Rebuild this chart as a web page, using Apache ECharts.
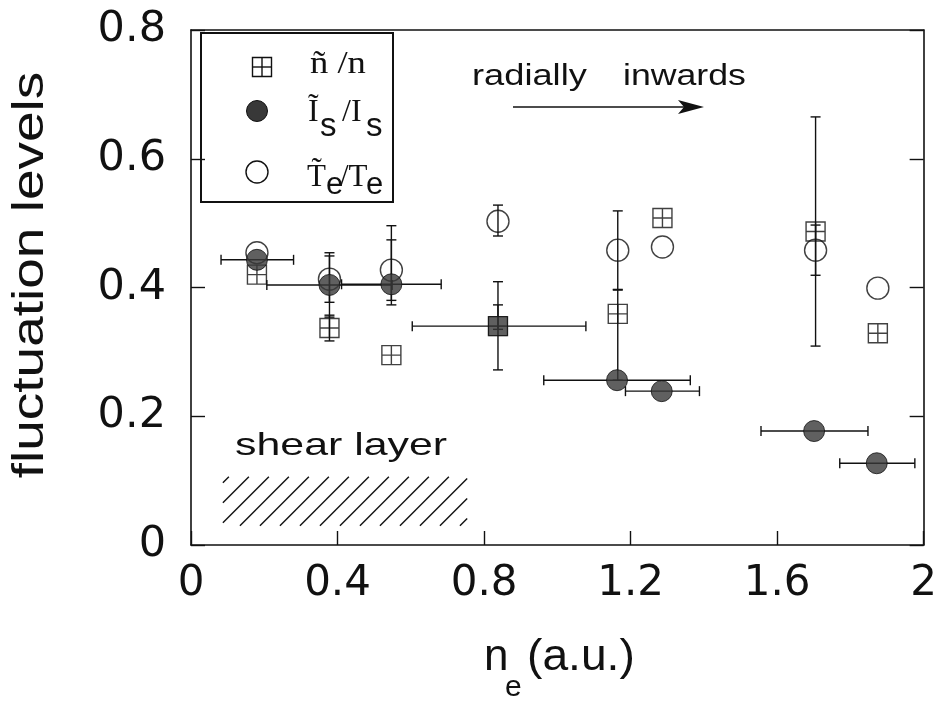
<!DOCTYPE html>
<html>
<head>
<meta charset="utf-8">
<script src="https://cdn.jsdelivr.net/npm/echarts@6/dist/echarts.min.js"></script>
<style>html,body{margin:0;padding:0;background:#fff;}#c{width:940px;height:704px;}</style>
</head>
<body>
<div id="c"></div>
<script>
// ---- data ----
const xTickLabels = ['0', '0.4', '0.8', '1.2', '1.6', '2'];
const yTickLabels = ['0', '0.2', '0.4', '0.6', '0.8'];

// ñ/n (squares)
const nX   = [0.180, 0.378, 0.547, 0.838, 1.165, 1.287, 1.705, 1.875];
const nY   = [0.420, 0.337, 0.295, 0.340, 0.359, 0.508, 0.487, 0.329];
const nYLo = [null, 0.317, null, 0.272, 0.256, null, 0.309, null];
const nYHi = [null, 0.357, null, 0.409, 0.396, null, 0.665, null];
const nXLo = [null, null, null, 0.604, null, null, null, null];
const nXHi = [null, null, null, 1.078, null, null, null, null];

// Ĩs/Is (filled circles)
const isX   = [0.180, 0.378, 0.547, 0.838, 1.163, 1.285, 1.701, 1.872];
const isY   = [0.443, 0.404, 0.405, 0.340, 0.256, 0.239, 0.177, 0.127];
const isYLo = [null, 0.354, 0.373, 0.335, null, null, null, null];
const isYHi = [null, 0.454, 0.496, 0.373, null, null, null, null];
const isXLo = [0.082, 0.207, 0.411, null, 0.963, 1.186, 1.556, 1.771];
const isXHi = [0.280, 0.549, 0.683, null, 1.363, 1.388, 1.848, 1.976];

// T̃e/Te (open circles)
const teX   = [0.180, 0.378, 0.547, 0.838, 1.165, 1.287, 1.705, 1.875];
const teY   = [0.454, 0.413, 0.427, 0.503, 0.458, 0.463, 0.458, 0.399];
const teYLo = [null, 0.377, 0.380, 0.480, 0.397, null, 0.419, null];
const teYHi = [null, 0.449, 0.474, 0.528, 0.519, null, 0.497, null];

// shear layer hatched region (n_e range, level range)
const shearX = [0.087, 0.754];
const shearY = [0.030, 0.106];

// ---- build ----
const INK = '#111';
const DARK = '#383838';
function pairs(xs, ys) { return xs.map((x, i) => [x, ys[i]]); }
function vErr(xs, lo, hi) { const o = []; xs.forEach((x, i) => { if (lo[i] != null) o.push([x, lo[i], hi[i]]); }); return o; }
function hErr(ys, lo, hi) { const o = []; ys.forEach((y, i) => { if (lo[i] != null) o.push([lo[i], hi[i], y]); }); return o; }

const vData = [].concat(vErr(nX, nYLo, nYHi), vErr(isX, isYLo, isYHi), vErr(teX, teYLo, teYHi));
const hData = [].concat(hErr(nY, nXLo, nXHi), hErr(isY, isXLo, isXHi));
// points where Is coincides with ñ/n -> drawn as a filled square
const overlap = [];
nX.forEach((x, i) => { isX.forEach((x2, j) => { if (Math.abs(x - x2) < 0.01 && Math.abs(nY[i] - isY[j]) < 0.005) overlap.push([x, nY[i]]); }); });
const isData = pairs(isX, isY).filter(p => !overlap.some(q => Math.abs(q[0] - p[0]) < 0.01 && Math.abs(q[1] - p[1]) < 0.005));

const CAP = 5;
const lineStyle = { stroke: INK, lineWidth: 1.4 };
function renderV(params, api) {
  const a = api.coord([api.value(0), api.value(1)]);
  const b = api.coord([api.value(0), api.value(2)]);
  return { type: 'group', children: [
    { type: 'line', shape: { x1: a[0], y1: a[1], x2: b[0], y2: b[1] }, style: lineStyle },
    { type: 'line', shape: { x1: a[0] - CAP, y1: a[1], x2: a[0] + CAP, y2: a[1] }, style: lineStyle },
    { type: 'line', shape: { x1: b[0] - CAP, y1: b[1], x2: b[0] + CAP, y2: b[1] }, style: lineStyle }
  ]};
}
function renderH(params, api) {
  const a = api.coord([api.value(0), api.value(2)]);
  const b = api.coord([api.value(1), api.value(2)]);
  return { type: 'group', children: [
    { type: 'line', shape: { x1: a[0], y1: a[1], x2: b[0], y2: b[1] }, style: lineStyle },
    { type: 'line', shape: { x1: a[0], y1: a[1] - CAP, x2: a[0], y2: a[1] + CAP }, style: lineStyle },
    { type: 'line', shape: { x1: b[0], y1: b[1] - CAP, x2: b[0], y2: b[1] + CAP }, style: lineStyle }
  ]};
}
function renderHatch(params, api) {
  const tl = api.coord([api.value(0), api.value(3)]);
  const br = api.coord([api.value(1), api.value(2)]);
  const left = tl[0], top = tl[1], right = br[0], bottom = br[1];
  const h = bottom - top, step = 20;
  const children = [];
  for (let c = left - h + 6; c < right; c += step) {
    const xs = Math.max(c, left), xe = Math.min(c + h, right);
    if (xe - xs < 1) continue;
    children.push({ type: 'line', shape: { x1: xs, y1: bottom - (xs - c), x2: xe, y2: bottom - (xe - c) }, style: { stroke: INK, lineWidth: 1.4 } });
  }
  return { type: 'group', children };
}

const SQ = 'path://M0,0L20,0L20,20L0,20Z M10,0L10,20 M0,10L20,10';

function txt(str, x, baseline, fs, fam, opt) {
  opt = opt || {};
  return { type: 'text', x: x, y: baseline - 0.34 * fs, scaleX: opt.sx || 1, z: 10,
    style: { text: str, fontSize: fs, fontFamily: fam, fill: INK, align: opt.align || 'left', verticalAlign: 'middle' } };
}
const SANS = 'Liberation Sans', SERIF = 'Liberation Serif';

const graphic = [
  // legend box
  { type: 'rect', shape: { x: 201, y: 33, width: 192, height: 169 }, style: { fill: 'none', stroke: INK, lineWidth: 2 }, z: 10 },
  { type: 'rect', shape: { x: 252.5, y: 57.5, width: 19, height: 19 }, style: { fill: 'none', stroke: INK, lineWidth: 1.4 }, z: 10 },
  { type: 'line', shape: { x1: 262, y1: 57.5, x2: 262, y2: 76.5 }, style: { stroke: INK, lineWidth: 1.4 }, z: 10 },
  { type: 'line', shape: { x1: 252.5, y1: 67, x2: 271.5, y2: 67 }, style: { stroke: INK, lineWidth: 1.4 }, z: 10 },
  { type: 'circle', shape: { cx: 257, cy: 111, r: 10.5 }, style: { fill: DARK, stroke: INK, lineWidth: 1 }, z: 10 },
  { type: 'circle', shape: { cx: 257, cy: 172, r: 11 }, style: { fill: 'none', stroke: INK, lineWidth: 1.4 }, z: 10 },
  txt('ñ /n', 310, 75, 31, SERIF, { sx: 1.18 }),
  txt('Ĩ', 308, 123, 32, SERIF),
  txt('s', 320, 138, 33, SANS),
  txt(' /I', 334, 123, 32, SERIF),
  txt('s', 366, 138, 33, SANS),
  txt('T\u0303', 307, 188, 31, SERIF),
  txt('e', 326, 196, 31, SANS),
  txt('/T', 340, 188, 31, SERIF),
  txt('e', 366, 196, 31, SANS),
  // annotations
  txt('radially', 472, 87, 29, SANS, { sx: 1.25 }),
  txt('inwards', 623, 87, 29, SANS, { sx: 1.23 }),
  { type: 'line', shape: { x1: 513, y1: 107, x2: 685, y2: 107 }, style: { stroke: INK, lineWidth: 1.5 }, z: 10 },
  { type: 'polygon', shape: { points: [[678, 100], [704, 107], [678, 114], [684, 107]] }, style: { fill: INK }, z: 10 },
  txt('shear layer', 235, 457, 32, SANS, { sx: 1.34 }),
  // axis titles
  { type: 'text', x: 31, y: 275, rotation: Math.PI / 2, scaleX: 1.25, z: 10,
    style: { text: 'fluctuation levels', fontSize: 44, fontFamily: SANS, fill: INK, align: 'center', verticalAlign: 'middle' } },
  txt('n', 484, 673, 44, SANS),
  txt('e', 505, 698, 30, SANS),
  txt('(a.u.)', 527, 673, 44, SANS, { sx: 1.05 })
];

const axisCommon = {
  type: 'value',
  axisLine: { show: true, onZero: false, lineStyle: { color: INK, width: 1.6 } },
  axisTick: { show: true, inside: true, length: 14, lineStyle: { color: INK, width: 1.4 } },
  splitLine: { show: false }
};

const option = {
  animation: false,
  backgroundColor: '#fff',
  grid: { left: 191, right: 15, top: 30, bottom: 159 },
  xAxis: [
    Object.assign({}, axisCommon, { min: 0, max: 2, interval: 0.4, position: 'bottom',
      axisLabel: { margin: 18, fontSize: 42, fontFamily: 'DejaVu Sans', color: INK, formatter: (v, i) => xTickLabels[i] } }),
    Object.assign({}, axisCommon, { min: 0, max: 2, interval: 0.4, position: 'top', axisTick: { show: false }, axisLabel: { show: false } })
  ],
  yAxis: [
    Object.assign({}, axisCommon, { min: 0, max: 0.8, interval: 0.2, position: 'left',
      axisLabel: { margin: 25, fontSize: 43, fontFamily: 'DejaVu Sans', color: INK, formatter: (v, i) => yTickLabels[i] } }),
    Object.assign({}, axisCommon, { min: 0, max: 0.8, interval: 0.2, position: 'right', axisLabel: { show: false } })
  ],
  series: [
    { type: 'custom', renderItem: renderHatch, data: [[shearX[0], shearX[1], shearY[0], shearY[1]]], encode: { x: [0, 1], y: [2, 3] }, z: 1, silent: true },
    { type: 'custom', renderItem: renderV, data: vData, encode: { x: 0, y: [1, 2] }, z: 2, silent: true },
    { type: 'custom', renderItem: renderH, data: hData, encode: { x: [0, 1], y: 2 }, z: 2, silent: true },
    { name: 'ñ/n', type: 'scatter', symbol: SQ, symbolSize: 19, data: pairs(nX, nY), z: 3, silent: true,
      itemStyle: { color: 'rgba(0,0,0,0)', borderColor: INK, borderWidth: 1.4 } },
    { name: 'Te', type: 'scatter', symbol: 'circle', symbolSize: 22, data: pairs(teX, teY), z: 4, silent: true,
      itemStyle: { color: 'rgba(0,0,0,0)', borderColor: INK, borderWidth: 1.4 } },
    { name: 'Is', type: 'scatter', symbol: 'circle', symbolSize: 21, data: isData, z: 5, silent: true,
      itemStyle: { color: DARK, borderColor: INK, borderWidth: 1 } },
    { name: 'overlap', type: 'scatter', symbol: 'rect', symbolSize: 19, data: overlap, z: 6, silent: true,
      itemStyle: { color: DARK, borderColor: INK, borderWidth: 1 } }
  ],
  graphic: graphic
};

const chart = echarts.init(document.getElementById('c'), null, { renderer: 'canvas' });
chart.setOption(option);
</script>
</body>
</html>
